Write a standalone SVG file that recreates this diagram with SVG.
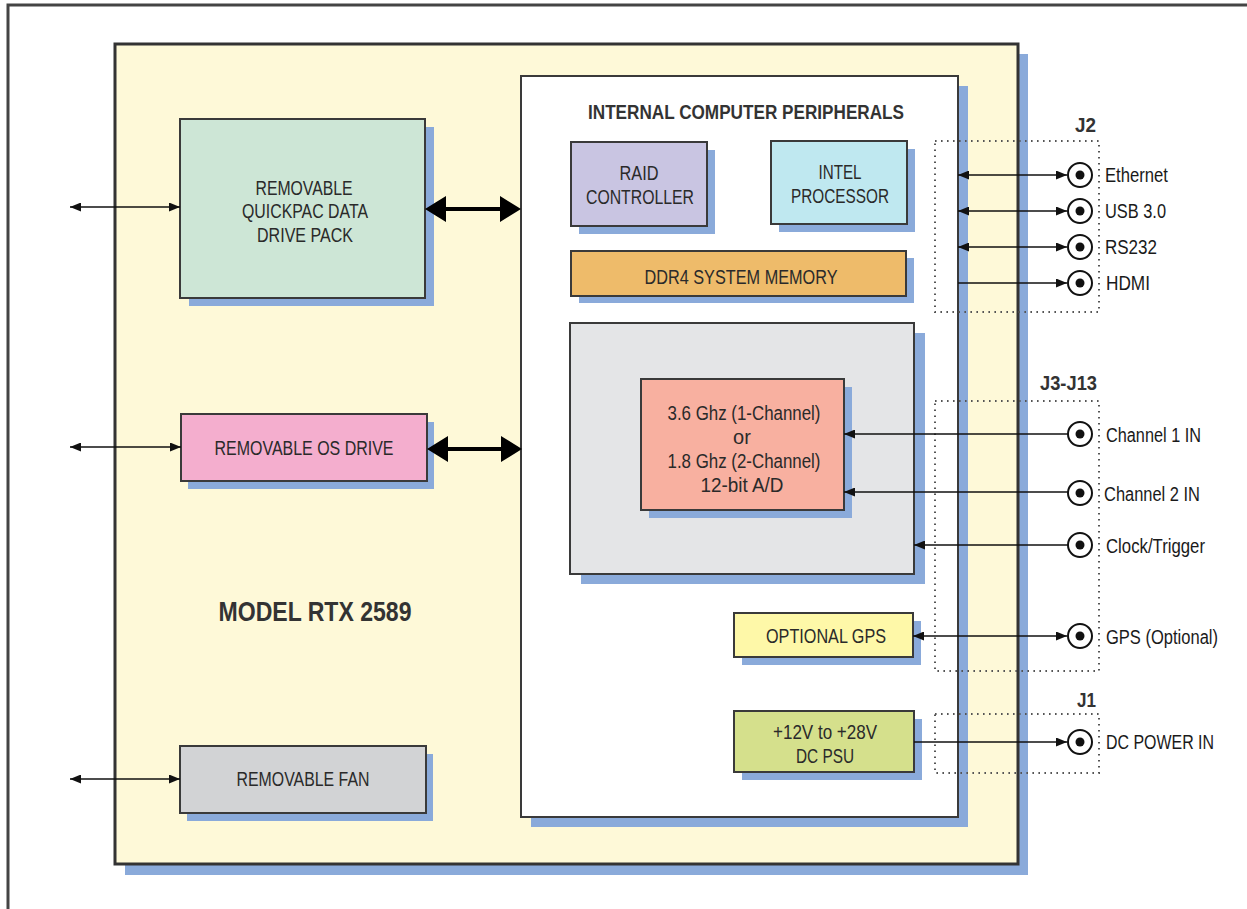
<svg xmlns="http://www.w3.org/2000/svg" width="1247" height="909" viewBox="0 0 1247 909">
<defs>
<style>
.box{stroke:#3a3a3a;stroke-width:2}
.sh{fill:#8aaada}
.t{font-family:"Liberation Sans Narrow","Liberation Sans",Arial,sans-serif;font-size:20px;fill:#2a2a2a;text-anchor:middle}
.tl{font-family:"Liberation Sans Narrow","Liberation Sans",Arial,sans-serif;font-size:20px;fill:#1a1a1a;text-anchor:start}
.b{font-weight:bold;fill:#333}
.ln{stroke:#111;stroke-width:1.6;fill:none}
.dot{fill:none;stroke:#555;stroke-width:2;stroke-dasharray:1.6 4.4}
.jack{fill:#fff;stroke:#111;stroke-width:2}
</style>
<marker id="ah" viewBox="0 0 11 9" refX="11" refY="4.5" markerWidth="11" markerHeight="9" markerUnits="userSpaceOnUse" orient="auto-start-reverse"><path d="M0,0 L11,4.5 L0,9 z" fill="#111"/></marker>
</defs>
<rect width="1247" height="909" fill="#ffffff"/>
<rect x="8" y="5" width="1260" height="930" fill="none" stroke="#444" stroke-width="3"/>

<g id="chassis">
<rect class="sh" x="125" y="54" width="903" height="821"/>
<rect x="115" y="44" width="903" height="820" fill="#fef9d8" stroke="#333" stroke-width="3"/>
<text class="t b" x="315" y="621" textLength="193" lengthAdjust="spacingAndGlyphs" style="font-size:28px">MODEL RTX 2589</text>
</g>

<g id="peripherals">
<rect class="sh" x="531" y="86" width="437" height="741"/>
<rect class="box" x="521" y="76" width="437" height="741" fill="#ffffff"/>
<text class="t b" x="746" y="119" textLength="316" lengthAdjust="spacingAndGlyphs">INTERNAL COMPUTER PERIPHERALS</text>
</g>

<g id="drivepack">
<rect class="sh" x="189" y="127" width="245" height="179"/>
<rect class="box" x="180" y="119" width="245" height="179" fill="#cde6d6"/>
<text class="t" x="304" y="195" textLength="97" lengthAdjust="spacingAndGlyphs">REMOVABLE</text>
<text class="t" x="305" y="218" textLength="126" lengthAdjust="spacingAndGlyphs">QUICKPAC DATA</text>
<text class="t" x="305" y="242" textLength="96" lengthAdjust="spacingAndGlyphs">DRIVE PACK</text>
</g>

<g id="osdrive">
<rect class="sh" x="188" y="422" width="246" height="67"/>
<rect class="box" x="181" y="414" width="246" height="67" fill="#f4aece"/>
<text class="t" x="304" y="455" textLength="179" lengthAdjust="spacingAndGlyphs">REMOVABLE OS DRIVE</text>
</g>

<g id="fan">
<rect class="sh" x="187" y="754" width="246" height="67"/>
<rect class="box" x="180" y="746" width="246" height="67" fill="#d2d3d5"/>
<text class="t" x="303" y="786" textLength="133" lengthAdjust="spacingAndGlyphs">REMOVABLE FAN</text>
</g>

<g id="raid">
<rect class="sh" x="579" y="150" width="136" height="84"/>
<rect class="box" x="571" y="142" width="136" height="84" fill="#c9c5e2"/>
<text class="t" x="639" y="180" textLength="39" lengthAdjust="spacingAndGlyphs">RAID</text>
<text class="t" x="640" y="204" textLength="108" lengthAdjust="spacingAndGlyphs">CONTROLLER</text>
</g>

<g id="intel">
<rect class="sh" x="779" y="149" width="136" height="83"/>
<rect class="box" x="771" y="141" width="136" height="83" fill="#bfe8f0"/>
<text class="t" x="840" y="179" textLength="43" lengthAdjust="spacingAndGlyphs">INTEL</text>
<text class="t" x="840" y="203" textLength="98" lengthAdjust="spacingAndGlyphs">PROCESSOR</text>
</g>

<g id="ddr4">
<rect class="sh" x="579" y="258" width="335" height="45"/>
<rect class="box" x="571" y="251" width="335" height="45" fill="#eebb6a"/>
<text class="t" x="741" y="284" textLength="193" lengthAdjust="spacingAndGlyphs">DDR4 SYSTEM MEMORY</text>
</g>

<g id="digitizer">
<rect class="sh" x="581" y="333" width="344" height="251"/>
<rect class="box" x="570" y="323" width="344" height="251" fill="#e4e5e7"/>
</g>

<g id="adc">
<rect class="sh" x="649" y="387" width="203" height="131"/>
<rect class="box" x="641" y="379" width="203" height="131" fill="#f8b0a0"/>
<text class="t" x="744" y="420" textLength="153" lengthAdjust="spacingAndGlyphs">3.6 Ghz (1-Channel)</text>
<text class="t" x="742" y="444">or</text>
<text class="t" x="744" y="468" textLength="153" lengthAdjust="spacingAndGlyphs">1.8 Ghz (2-Channel)</text>
<text class="t" x="742" y="492" textLength="83" lengthAdjust="spacingAndGlyphs">12-bit A/D</text>
</g>

<g id="gps">
<rect class="sh" x="742" y="621" width="179" height="44"/>
<rect class="box" x="734" y="613" width="179" height="44" fill="#fef8a8"/>
<text class="t" x="826" y="643" textLength="120" lengthAdjust="spacingAndGlyphs">OPTIONAL GPS</text>
</g>

<g id="psu">
<rect class="sh" x="742" y="719" width="180" height="61"/>
<rect class="box" x="734" y="711" width="180" height="61" fill="#d5e08c"/>
<text class="t" x="825" y="739" textLength="104" lengthAdjust="spacingAndGlyphs">+12V to +28V</text>
<text class="t" x="825" y="763" textLength="58" lengthAdjust="spacingAndGlyphs">DC PSU</text>
</g>

<g id="j2">
<rect class="dot" x="935" y="141" width="164" height="171"/>
<text class="tl b" x="1075" y="132" textLength="21" lengthAdjust="spacingAndGlyphs">J2</text>
<circle class="jack" cx="1080" cy="175" r="12"/><circle cx="1080" cy="175" r="4.5" fill="#111"/>
<circle class="jack" cx="1080" cy="211" r="12"/><circle cx="1080" cy="211" r="4.5" fill="#111"/>
<circle class="jack" cx="1080" cy="247" r="12"/><circle cx="1080" cy="247" r="4.5" fill="#111"/>
<circle class="jack" cx="1080" cy="283" r="12"/><circle cx="1080" cy="283" r="4.5" fill="#111"/>
<text class="tl" x="1105" y="182" textLength="63" lengthAdjust="spacingAndGlyphs">Ethernet</text>
<text class="tl" x="1105" y="218" textLength="61" lengthAdjust="spacingAndGlyphs">USB 3.0</text>
<text class="tl" x="1105" y="254" textLength="52" lengthAdjust="spacingAndGlyphs">RS232</text>
<text class="tl" x="1106" y="290" textLength="44" lengthAdjust="spacingAndGlyphs">HDMI</text>
</g>

<g id="j3j13">
<rect class="dot" x="935" y="401" width="164" height="270"/>
<text class="tl b" x="1040" y="390" textLength="57" lengthAdjust="spacingAndGlyphs">J3-J13</text>
<circle class="jack" cx="1080" cy="434" r="12"/><circle cx="1080" cy="434" r="4.5" fill="#111"/>
<circle class="jack" cx="1080" cy="493" r="12"/><circle cx="1080" cy="493" r="4.5" fill="#111"/>
<circle class="jack" cx="1080" cy="545" r="12"/><circle cx="1080" cy="545" r="4.5" fill="#111"/>
<circle class="jack" cx="1080" cy="636" r="12"/><circle cx="1080" cy="636" r="4.5" fill="#111"/>
<text class="tl" x="1106" y="442" textLength="95" lengthAdjust="spacingAndGlyphs">Channel 1 IN</text>
<text class="tl" x="1104" y="501" textLength="96" lengthAdjust="spacingAndGlyphs">Channel 2 IN</text>
<text class="tl" x="1106" y="553" textLength="99" lengthAdjust="spacingAndGlyphs">Clock/Trigger</text>
<text class="tl" x="1106" y="644" textLength="112" lengthAdjust="spacingAndGlyphs">GPS (Optional)</text>
</g>

<g id="j1">
<rect class="dot" x="935" y="714" width="164" height="59"/>
<text class="tl b" x="1077" y="707" textLength="19" lengthAdjust="spacingAndGlyphs">J1</text>
<circle class="jack" cx="1080" cy="742" r="12"/><circle cx="1080" cy="742" r="4.5" fill="#111"/>
<text class="tl" x="1106" y="749" textLength="108" lengthAdjust="spacingAndGlyphs">DC POWER IN</text>
</g>

<g id="connectors">
<line class="ln" x1="70" y1="207" x2="180" y2="207" marker-start="url(#ah)" marker-end="url(#ah)"/>
<line class="ln" x1="70" y1="447" x2="181" y2="447" marker-start="url(#ah)" marker-end="url(#ah)"/>
<line class="ln" x1="70" y1="779" x2="180" y2="779" marker-start="url(#ah)" marker-end="url(#ah)"/>
<path d="M425,209 L446,196 L446,207 L500,207 L500,196 L521,209 L500,222 L500,211 L446,211 L446,222 Z" fill="#000"/>
<path d="M427,449 L448,436 L448,447 L501,447 L501,436 L522,449 L501,462 L501,451 L448,451 L448,462 Z" fill="#000"/>
<line class="ln" x1="958" y1="175" x2="1067" y2="175" marker-start="url(#ah)" marker-end="url(#ah)"/>
<line class="ln" x1="958" y1="211" x2="1067" y2="211" marker-start="url(#ah)" marker-end="url(#ah)"/>
<line class="ln" x1="958" y1="247" x2="1067" y2="247" marker-start="url(#ah)" marker-end="url(#ah)"/>
<line class="ln" x1="958" y1="283" x2="1067" y2="283" marker-end="url(#ah)"/>
<line class="ln" x1="1068" y1="434" x2="844" y2="434" marker-end="url(#ah)"/>
<line class="ln" x1="1068" y1="492" x2="844" y2="492" marker-end="url(#ah)"/>
<line class="ln" x1="1068" y1="545" x2="914" y2="545" marker-end="url(#ah)"/>
<line class="ln" x1="913" y1="636" x2="1067" y2="636" marker-start="url(#ah)" marker-end="url(#ah)"/>
<line class="ln" x1="914" y1="742" x2="1067" y2="742" marker-end="url(#ah)"/>
</g>
</svg>
